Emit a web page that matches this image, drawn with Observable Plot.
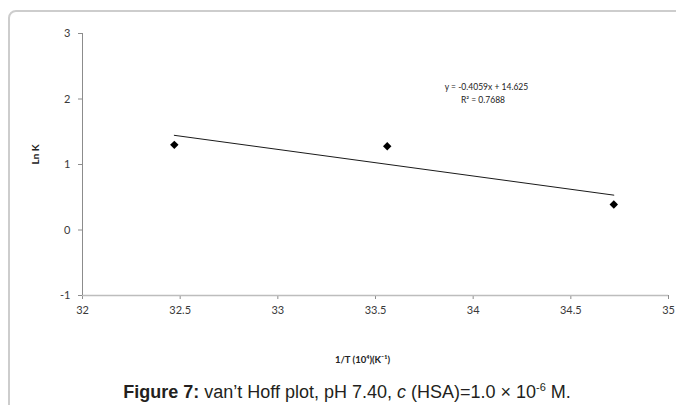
<!DOCTYPE html>
<html>
<head>
<meta charset="utf-8">
<script src="https://cdn.jsdelivr.net/npm/d3@7"></script>
<script src="https://cdn.jsdelivr.net/npm/@observablehq/plot@0.6"></script>
<style>
  html, body { margin: 0; padding: 0; background: #fff; }
  #wrap { position: relative; width: 676px; height: 405px; overflow: hidden; }
  #frame {
    position: absolute; left: 8px; top: 10px; width: 760px; height: 480px;
    border: 2px solid #cdcdcd; border-radius: 8px; box-sizing: border-box;
  }
  #chart { position: absolute; left: 0; top: 0; }
  #caption {
    position: absolute; left: 0; top: 383px; width: 694px; text-align: center;
    font-family: "Liberation Sans", Arial, sans-serif; font-size: 18px; line-height: 18px; color: #231f20;
    white-space: nowrap;
  }
  #caption sup { font-size: 11px; vertical-align: 7px; line-height: 0; }
</style>
</head>
<body>
<div id="wrap">
  <div id="frame"></div>
  <div id="chart"></div>
  <div id="caption"><b>Figure 7:</b> van’t Hoff plot, pH 7.40, <i>c</i> (HSA)=1.0 × 10<sup>-6</sup> M.</div>
</div>
<script>
// Reciprocal temperature (×10^4, K^-1) and ln K at each temperature
const invT = [32.47, 33.56, 34.72];
const lnK = [1.30, 1.28, 0.39];

// Linear trendline as reported on the chart
const slope = -0.4059;
const intercept = 14.625;
const rSquared = 0.7688;

// Axis ticks
const xTicks = [32, 32.5, 33, 33.5, 34, 34.5, 35];
const yTicks = [-1, 0, 1, 2, 3];

const points = invT.map((x, i) => ({x, y: lnK[i]}));
const xMin = d3.min(invT), xMax = d3.max(invT);
const trend = [xMin, xMax].map(x => ({x, y: slope * x + intercept}));

const eqLabel = `y = ${slope}x + ${intercept}`;
const r2Label = `R² = ${rSquared}`;

const axisColor = "#8c8c8c";
const textColor = "#3a3a3a";

const chart = Plot.plot({
  width: 676,
  height: 370,
  marginLeft: 82,
  marginRight: 8,
  marginTop: 33,
  marginBottom: 75,
  style: {fontFamily: "Lato, sans-serif", fontSize: "11px", background: "transparent", overflow: "visible"},
  x: {domain: [32, 35]},
  y: {domain: [-1, 3]},
  marks: [
    Plot.axisX({ticks: xTicks, tickSize: 4, tickPadding: 7, stroke: axisColor, fill: textColor, label: null, tickFormat: d => String(d)}),
    Plot.axisY({ticks: yTicks, tickSize: 4, tickPadding: 8, stroke: axisColor, fill: textColor, label: null, tickFormat: d => String(d)}),
    Plot.ruleY([-1], {stroke: "#bdbdbd", strokeWidth: 1.5}),
    Plot.ruleX([32], {stroke: axisColor}),
    Plot.line(trend, {x: "x", y: "y", stroke: "#1a1a1a", strokeWidth: 1}),
    Plot.dot(points, {x: "x", y: "y", symbol: "diamond2", r: 3.8, fill: "#000", stroke: "none"}),
    Plot.text([eqLabel], {x: 34.068, y: 2.18, text: d => d, fontSize: 8.5, fill: "#222"}),
    Plot.text([r2Label], {x: 34.05, y: 1.98, text: d => d, fontSize: 8.5, fill: "#222"}),
    Plot.text(["Ln K"], {frameAnchor: "left", dx: -47, rotate: -90, text: d => d, fontSize: 10, fontWeight: "bold", fill: "#222"}),
    Plot.text(["1/T (10⁴)(K⁻¹)"], {frameAnchor: "bottom", dx: -13, dy: 67, text: d => d, fontSize: 9.5, fontWeight: "bold", fill: "#222"})
  ]
});
document.getElementById("chart").appendChild(chart);
</script>
</body>
</html>
